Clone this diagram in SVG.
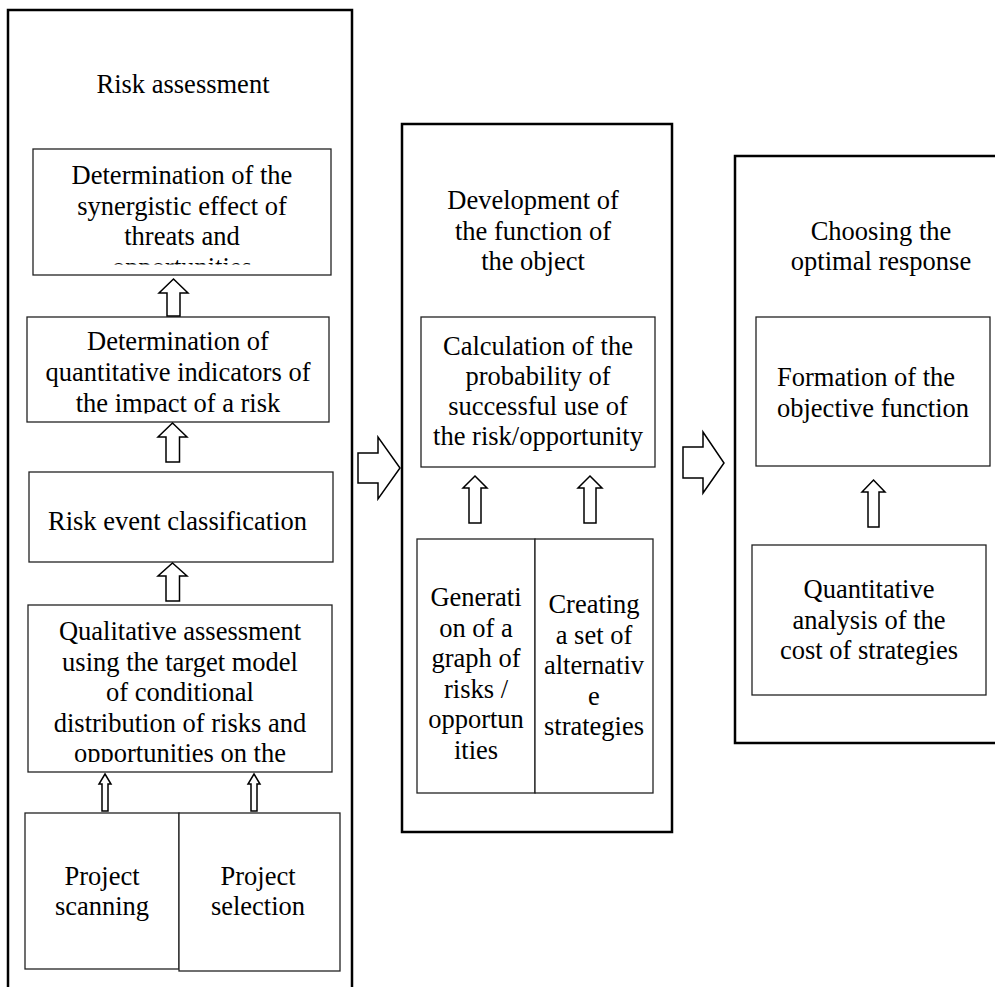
<svg xmlns="http://www.w3.org/2000/svg" width="995" height="987" viewBox="0 0 995 987">
<style>
  .outer { fill: none; stroke: #000; stroke-width: 2.5; }
  .box { fill: #fff; stroke: #222; stroke-width: 1.3; }
  .arrow { fill: #fff; stroke: #000; stroke-width: 1.5; stroke-linejoin: miter; }
  .t text { font-size: 26.5px; fill: #000; text-anchor: middle; }
  .t text.left { text-anchor: start; }
</style>
<defs>
  <clipPath id="clip1"><rect x="33" y="149" width="298" height="115.5"/></clipPath>
  <clipPath id="clip2"><rect x="27" y="317" width="302" height="96.5"/></clipPath>
  <clipPath id="clip4"><rect x="28" y="605" width="304" height="157"/></clipPath>
</defs>
<rect width="995" height="987" fill="#fff"/>
<g class="t" font-family="'Liberation Serif', 'Times New Roman', Times, 'DejaVu Serif', serif">

<g id="stage-risk-assessment">
  <path class="outer" d="M8,995 V10 H352 V995"/>
  <text x="183" y="93">Risk assessment</text>
</g>
<g id="stage-development">
  <rect class="outer" x="402" y="124" width="270" height="708"/>
  <text x="533" y="209">Development of</text>
  <text x="533" y="239.5">the function of</text>
  <text x="533" y="270">the object</text>
</g>
<g id="stage-choosing">
  <path class="outer" d="M1000,156 H735 V743 H1000"/>
  <text x="881" y="240">Choosing the</text>
  <text x="881" y="269.5">optimal response</text>
</g>

<g id="node-synergistic">
  <rect class="box" x="33" y="149" width="298" height="126"/>
  <g clip-path="url(#clip1)">
    <text x="182" y="184">Determination of the</text>
    <text x="182" y="214.5">synergistic effect of</text>
    <text x="182" y="245">threats and</text>
    <text x="182" y="275.5">opportunities</text>
  </g>
</g>
<g id="node-quantitative-indicators">
  <rect class="box" x="27" y="317" width="302" height="105"/>
  <g clip-path="url(#clip2)">
    <text x="178" y="350">Determination of</text>
    <text x="178" y="381">quantitative indicators of</text>
    <text x="178" y="411.5">the impact of a risk</text>
  </g>
</g>
<g id="node-classification">
  <rect class="box" x="29" y="472" width="304" height="90"/>
  <text x="177.5" y="530">Risk event classification</text>
</g>
<g id="node-qualitative">
  <rect class="box" x="28" y="605" width="304" height="167"/>
  <g clip-path="url(#clip4)">
    <text x="180" y="640">Qualitative assessment</text>
    <text x="180" y="670.5">using the target model</text>
    <text x="180" y="701">of conditional</text>
    <text x="180" y="731.5">distribution of risks and</text>
    <text x="180" y="762">opportunities on the</text>
  </g>
</g>
<g id="node-project-scanning">
  <rect class="box" x="25" y="813" width="154" height="156"/>
  <text x="102" y="885">Project</text>
  <text x="102" y="915">scanning</text>
</g>
<g id="node-project-selection">
  <rect class="box" x="179" y="813" width="161" height="158"/>
  <text x="258" y="885">Project</text>
  <text x="258" y="915">selection</text>
</g>

<g id="node-calculation">
  <rect class="box" x="421" y="317" width="234" height="150"/>
  <text x="538" y="355">Calculation of the</text>
  <text x="538" y="385">probability of</text>
  <text x="538" y="415">successful use of</text>
  <text x="538" y="445">the risk/opportunity</text>
</g>
<g id="node-graph">
  <rect class="box" x="417" y="539" width="118" height="254"/>
  <text x="476" y="606">Generati</text>
  <text x="476" y="636.5">on of a</text>
  <text x="476" y="667">graph of</text>
  <text x="476" y="697.5">risks /</text>
  <text x="476" y="728">opportun</text>
  <text x="476" y="758.5">ities</text>
</g>
<g id="node-alternatives">
  <rect class="box" x="535" y="539" width="118" height="254"/>
  <text x="594" y="613">Creating</text>
  <text x="594" y="643.5">a set of</text>
  <text x="594" y="674">alternativ</text>
  <text x="594" y="704.5">e</text>
  <text x="594" y="735">strategies</text>
</g>

<g id="node-objective">
  <rect class="box" x="756" y="317" width="234" height="149"/>
  <text class="left" x="777" y="386">Formation of the</text>
  <text class="left" x="777" y="416.5">objective function</text>
</g>
<g id="node-cost">
  <rect class="box" x="752" y="545" width="234" height="150"/>
  <text x="869" y="598">Quantitative</text>
  <text x="869" y="628.5">analysis of the</text>
  <text x="869" y="659">cost of strategies</text>
</g>

<g id="connectors">
  <polygon class="arrow" points="358,453 378,453 378,437 400,468 378,499 378,483 358,483"/>
  <polygon class="arrow" points="683,447 703,447 703,432 724,463 703,493 703,478 683,478"/>
  <polygon class="arrow" points="173.5,279 188,293 180,293 180,316 167,316 167,293 159,293"/>
  <polygon class="arrow" points="172.5,423 187,437 179.5,437 179.5,462 166,462 166,437 158,437"/>
  <polygon class="arrow" points="172.5,563 187,576 179.5,576 179.5,601 166,601 166,576 158,576"/>
  <polygon class="arrow" points="105,774 111,784 108,784 108,811 102,811 102,784 99,784"/>
  <polygon class="arrow" points="254,774 260,784 257,784 257,811 251,811 251,784 248,784"/>
  <polygon class="arrow" points="475,476 487,488 481,488 481,523 469,523 469,488 463,488"/>
  <polygon class="arrow" points="590,476 602,488 596,488 596,523 584,523 584,488 578,488"/>
  <polygon class="arrow" points="873.5,480 885,492 879,492 879,527 868,527 868,492 862,492"/>
</g>
</g>
</svg>
